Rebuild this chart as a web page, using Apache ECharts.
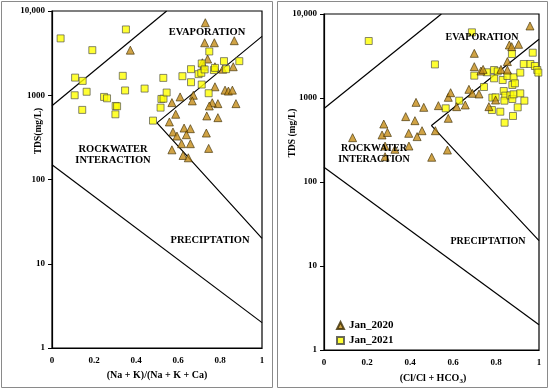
<!DOCTYPE html>
<html>
<head>
<meta charset="utf-8">
<script src="https://cdn.jsdelivr.net/npm/echarts@6/dist/echarts.min.js"></script>
<style>html,body{margin:0;padding:0;background:#fff}#c{width:550px;height:391px}</style>
</head>
<body>
<div id="c"></div>
<script>
// ---- data ----
var xTickLabels = ['0', '0.2', '0.4', '0.6', '0.8', '1'];
var yTickLabels = {1: '1', 10: '10', 100: '100', 1000: '1000', 10000: '10,000'};

// Gibbs boundary lines [ratio, TDS]
var boundaryUpper = [[0, 750], [0.546, 10000]];
var boundaryInner = [[1, 5000], [0.5, 470], [1, 20]];
var boundaryLower = [[0, 150], [1, 2]];

// Panel 1: (Na+K)/(Na+K+Ca) vs TDS
var cation2020 = [[0.373,3430],[0.730,7260],[0.727,4200],[0.773,4200],[0.868,4440],[0.741,2690],[0.716,2430],[0.721,2210],[0.776,2180],[0.863,2180],[0.813,2040],[0.776,1260],[0.824,1150],[0.840,1120],[0.859,1150],[0.876,795],[0.790,795],[0.763,815],[0.749,746],[0.737,568],[0.790,542],[0.673,1000],[0.668,857],[0.610,955],[0.571,818],[0.589,595],[0.559,482],[0.629,408],[0.659,401],[0.576,366],[0.595,328],[0.640,340],[0.735,356],[0.617,266],[0.659,266],[0.571,225],[0.746,234],[0.624,193],[0.649,181]];
var cation2021 = [[0.041,4730],[0.352,6040],[0.192,3430],[0.110,1620],[0.146,1480],[0.165,1100],[0.108,1000],[0.144,670],[0.248,955],[0.262,920],[0.303,746],[0.310,740],[0.302,594],[0.337,1700],[0.348,1140],[0.441,1200],[0.481,500],[0.521,904],[0.531,910],[0.517,713],[0.530,1607],[0.546,1077],[0.621,1683],[0.662,2040],[0.662,1428],[0.698,1780],[0.711,1845],[0.713,1340],[0.713,2383],[0.727,2025],[0.749,3310],[0.746,1057],[0.771,1990],[0.776,2113],[0.819,2540],[0.829,2040],[0.892,2540]];

// Panel 2: Cl/(Cl+HCO3) vs TDS
var anion2020 = [[0.958,7200],[0.133,337],[0.278,490],[0.270,363],[0.295,389],[0.284,268],[0.330,245],[0.284,200],[0.380,600],[0.423,537],[0.394,380],[0.395,268],[0.428,887],[0.464,774],[0.433,347],[0.456,408],[0.501,197],[0.518,408],[0.532,811],[0.578,1019],[0.589,1156],[0.578,573],[0.574,240],[0.617,789],[0.657,826],[0.674,1268],[0.690,1137],[0.721,1117],[0.699,3400],[0.699,2360],[0.730,2094],[0.740,2190],[0.767,789],[0.798,946],[0.823,2190],[0.853,2713],[0.853,2153],[0.862,4275],[0.873,4084],[0.905,4355]];
var anion2021 = [[0.208,4770],[0.688,6050],[0.516,2510],[0.566,754],[0.629,929],[0.699,1845],[0.744,1352],[0.757,2025],[0.791,1715],[0.791,2153],[0.808,2075],[0.783,1010],[0.798,1019],[0.781,719],[0.820,687],[0.836,1210],[0.843,1067],[0.839,929],[0.840,508],[0.831,1637],[0.853,1828],[0.867,1076],[0.876,973],[0.879,611],[0.874,3340],[0.882,1762],[0.876,1429],[0.888,1497],[0.882,1107],[0.901,774],[0.913,1137],[0.913,2005],[0.932,929],[0.929,2540],[0.960,2540],[0.971,3460],[0.981,2404],[0.992,2153],[0.997,2005]];

var seriesNames = ['Jan_2020', 'Jan_2021'];

// ---- chart ----
var FONT = "'Liberation Serif','Times New Roman',serif";
var chart = echarts.init(document.getElementById('c'), null, {renderer: 'canvas'});

function xAx(gi) {
  return {
    type: 'value', gridIndex: gi, min: 0, max: 1, interval: 0.2,
    axisLine: {show: true, lineStyle: {color: '#000', width: 1.2}},
    axisTick: {show: false},
    splitLine: {show: false},
    axisLabel: {color: '#000', fontFamily: FONT, fontWeight: 'bold', fontSize: 9, margin: 8,
      formatter: function (v) { return xTickLabels[Math.round(v / 0.2)]; }}
  };
}
function yAx(gi) {
  return {
    type: 'log', logBase: 10, gridIndex: gi, min: 1, max: 10000,
    axisLine: {show: true, lineStyle: {color: '#000', width: 1.2}},
    axisTick: {show: true, length: 4, lineStyle: {color: '#000'}},
    minorTick: {show: false},
    splitLine: {show: false},
    axisLabel: {color: '#000', fontFamily: FONT, fontWeight: 'bold', fontSize: 9, margin: 7,
      formatter: function (v) { return yTickLabels[Math.round(v)] || ''; }}
  };
}
function lineSeries(gi, data) {
  return {type: 'line', xAxisIndex: gi, yAxisIndex: gi, data: data, symbol: 'none',
    lineStyle: {color: '#000', width: 1.2}, silent: true, z: 1, animation: false};
}
var triStyle = {color: '#C48C18', borderColor: '#3a2a00', borderWidth: 0.8};
var sqStyle = {color: '#FFFF00', borderColor: '#444', borderWidth: 0.8};
function tri(gi, data) {
  return {type: 'scatter', name: seriesNames[0], xAxisIndex: gi, yAxisIndex: gi, data: data,
    symbol: 'triangle', symbolSize: 8, itemStyle: triStyle, z: 3, animation: false};
}
function sq(gi, data) {
  return {type: 'scatter', name: seriesNames[1], xAxisIndex: gi, yAxisIndex: gi, data: data,
    symbol: 'rect', symbolSize: 7, itemStyle: sqStyle, z: 3, animation: false};
}
function txt(x, y, s, size, rot) {
  return {type: 'text', x: x, y: y, rotation: rot || 0, z: 10,
    style: {text: s, fill: '#000', font: 'bold ' + size + 'px ' + FONT, textAlign: 'center', textVerticalAlign: 'middle'}};
}

var option = {
  animation: false,
  backgroundColor: '#fff',
  grid: [
    {left: 52, width: 210, top: 11, height: 337, show: true, borderColor: '#000', borderWidth: 1.2, backgroundColor: 'transparent'},
    {left: 324, width: 215, top: 14, height: 336, show: true, borderColor: '#000', borderWidth: 1.2, backgroundColor: 'transparent'}
  ],
  xAxis: [xAx(0), xAx(1)],
  yAxis: [yAx(0), yAx(1)],
  legend: {
    orient: 'vertical', left: 331, top: 315, itemWidth: 7, itemHeight: 7, itemGap: 4,
    textStyle: {fontFamily: FONT, fontWeight: 'bold', fontSize: 11, color: '#000'},
    data: [{name: seriesNames[0], icon: 'triangle'}, {name: seriesNames[1], icon: 'rect'}]
  },
  series: [
    lineSeries(0, boundaryUpper), lineSeries(0, boundaryInner), lineSeries(0, boundaryLower),
    lineSeries(1, boundaryUpper), lineSeries(1, boundaryInner), lineSeries(1, boundaryLower),
    tri(0, cation2020), sq(0, cation2021),
    sq(1, anion2021), tri(1, anion2020)
  ],
  graphic: [
    {type: 'rect', shape: {x: 1.5, y: 1.5, width: 271, height: 386}, style: {fill: 'none', stroke: '#8a8a8a', lineWidth: 1}, z: 0},
    {type: 'rect', shape: {x: 277.5, y: 1.5, width: 270, height: 386}, style: {fill: 'none', stroke: '#8a8a8a', lineWidth: 1}, z: 0},
    txt(207, 32, 'EVAPORATION', 10.5),
    txt(113, 149, 'ROCKWATER', 10.5),
    txt(113, 160, 'INTERACTION', 10.5),
    txt(210, 240, 'PRECIPTATION', 10.5),
    txt(482, 37, 'EVAPORATION', 10),
    txt(374, 148, 'ROCKWATER', 10),
    txt(374, 159, 'INTERACTION', 10),
    txt(488, 241, 'PRECIPTATION', 10),
    txt(39, 131, 'TDS(mg/L)', 9.5, Math.PI / 2),
    txt(293, 133, 'TDS (mg/L)', 9.5, Math.PI / 2),
    txt(157, 375, '(Na + K)/(Na + K + Ca)', 10),
    {type: 'text', x: 433, y: 378, z: 10,
      style: {text: '{a|(Cl/Cl + HCO}{s|3}{a|)}', textAlign: 'center', textVerticalAlign: 'middle',
        rich: {a: {font: 'bold 10px ' + FONT, fill: '#000', lineHeight: 14, verticalAlign: 'middle'},
               s: {font: 'bold 7px ' + FONT, fill: '#000', lineHeight: 14, verticalAlign: 'bottom', padding: [5, 0, 0, 0]}}}}
  ]
};
chart.setOption(option);
</script>
</body>
</html>
